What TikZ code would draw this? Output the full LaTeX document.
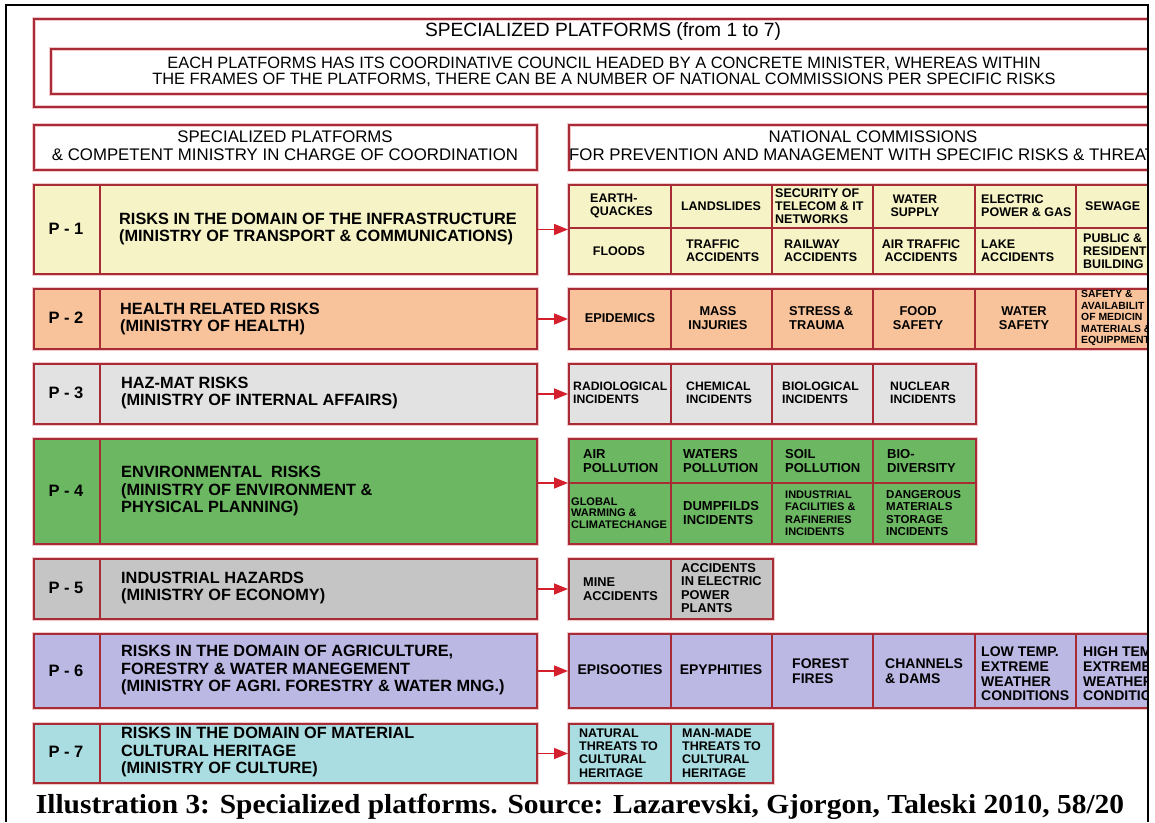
\documentclass[tikz,border=0pt]{standalone}
\usepackage{fontspec}
\setmainfont{Liberation Sans}
\newfontfamily\capfont{Liberation Serif}
\usetikzlibrary{arrows.meta,calc}
\definecolor{bordercol}{RGB}{168,44,54}
\definecolor{glowcol}{RGB}{242,200,204}
\definecolor{arrowcol}{RGB}{212,32,44}
\definecolor{fone}{RGB}{246,244,198}
\definecolor{ftwo}{RGB}{248,194,154}
\definecolor{fthree}{RGB}{226,226,226}
\definecolor{ffour}{RGB}{108,184,98}
\definecolor{ffive}{RGB}{197,197,197}
\definecolor{fsix}{RGB}{188,184,228}
\definecolor{fseven}{RGB}{169,221,225}
\tikzset{
  rbox/.style={draw=bordercol, line width=2pt, preaction={draw=glowcol, line width=4.5pt}, rectangle, inner sep=0pt, anchor=north west},
  divline/.style={draw=bordercol, line width=1.8pt},
  arr/.style={draw=arrowcol, line width=1.6pt, -{Triangle[length=14pt,width=11pt]}},
  ptext/.style={font=\fontsize{16.3}{17.5}\selectfont\bfseries, align=left, anchor=west, inner sep=0pt},
  plabel/.style={font=\fontsize{16.5}{18}\selectfont\bfseries, inner sep=0pt},
  hdr/.style={font=\fontsize{16.8}{18}\selectfont, align=center, inner sep=0pt},
  cell/.style={font=\fontsize{12.5}{13}\selectfont\bfseries, inner sep=0pt},
  cl/.style={cell, align=left, anchor=west},
  cc/.style={cell, align=center, anchor=center},
}
\begin{document}
\begin{tikzpicture}[x=1pt,y=-1pt]
\useasboundingbox (0,0) rectangle (1155,822);
\fill[white] (0,0) rectangle (1155,822);
\begin{scope}
\clip (7,0) rectangle (1147,822);
% title boxes
\node[rbox, minimum width=1220pt, minimum height=88pt] (tout) at (33,18) {};
\node[rbox, minimum width=1200pt, minimum height=45pt] (tin) at (50,48) {};
\node[font=\fontsize{19.2}{21}\selectfont, inner sep=0pt] (ttl) at (603,32) {SPECIALIZED PLATFORMS (from 1 to 7)};
\node[font=\fontsize{16.4}{16.2}\selectfont, align=center, inner sep=0pt] (tsub) at (604,72) {EACH PLATFORMS HAS ITS COORDINATIVE COUNCIL HEADED BY A CONCRETE MINISTER, WHEREAS WITHIN\\THE FRAMES OF THE PLATFORMS, THERE CAN BE A NUMBER OF NATIONAL COMMISSIONS PER SPECIFIC RISKS};
% headers
\node[rbox, minimum width=503pt, minimum height=45pt] (hl) at (33,124) {};
\node[hdr] (hlt) at (285,146) {SPECIALIZED PLATFORMS\\\& COMPETENT MINISTRY IN CHARGE OF COORDINATION};
\node[rbox, minimum width=700pt, minimum height=45pt] (hr) at (568,124) {};
\node[hdr] (hrt1) at (873,137) {NATIONAL COMMISSIONS};
\node[hdr, anchor=west] (hrt2) at (569,155) {FOR PREVENTION AND MANAGEMENT WITH SPECIFIC RISKS \& THREAT};
% ---------- P-1
\node[rbox, fill=fone, minimum width=503pt, minimum height=89pt] (p1) at (33,184) {};
\draw[divline] ($(p1.north west)+(67,0)$) -- ($(p1.south west)+(67,0)$);
\node[plabel] (l1) at (66,229) {P - 1};
\node[ptext] (x1) at (119,229) {RISKS IN THE DOMAIN OF THE INFRASTRUCTURE\\(MINISTRY OF TRANSPORT \& COMMUNICATIONS)};
\node[rbox, fill=fone, minimum width=700pt, minimum height=89pt] (c1) at (568,184) {};
\draw[divline] (568,228) -- (1160,228);
\foreach \cx in {671,772,873,975,1076} \draw[divline] (\cx,184) -- (\cx,273);
\node[cl] (k1a) at (590,206) {EARTH-\\QUACKES};
\node[cc] (k1b) at (721,206) {LANDSLIDES};
\node[cl] (k1c) at (775,206) {SECURITY OF\\TELECOM \& IT\\NETWORKS};
\node[cc] (k1d) at (915,206) {WATER\\SUPPLY};
\node[cl] (k1e) at (981,206) {ELECTRIC\\POWER \& GAS};
\node[cl] (k1f) at (1085,206) {SEWAGE};
\node[cc] (k1g) at (619,251) {FLOODS};
\node[cl] (k1h) at (686,251) {TRAFFIC\\ACCIDENTS};
\node[cl] (k1i) at (784,251) {RAILWAY\\ACCIDENTS};
\node[cc] (k1j) at (921,251) {AIR TRAFFIC\\ACCIDENTS};
\node[cl] (k1k) at (981,251) {LAKE\\ACCIDENTS};
\node[cl] (k1l) at (1083,251) {PUBLIC \&\\RESIDENT\\BUILDING};
\draw[arr] (p1.east) -- (c1.west);
% ---------- P-2
\node[rbox, fill=ftwo, minimum width=503pt, minimum height=60pt] (p2) at (33,288) {};
\draw[divline] ($(p2.north west)+(67,0)$) -- ($(p2.south west)+(67,0)$);
\node[plabel] (l2) at (66,318) {P - 2};
\node[ptext] (x2) at (120,319) {HEALTH RELATED RISKS\\(MINISTRY OF HEALTH)};
\node[rbox, fill=ftwo, minimum width=700pt, minimum height=60pt] (c2) at (568,288) {};
\foreach \cx in {671,772,873,975,1076} \draw[divline] (\cx,288) -- (\cx,348);
\node[cc, font=\fontsize{12.8}{13.5}\selectfont\bfseries] (k2a) at (620,318) {EPIDEMICS};
\node[cc, font=\fontsize{12.8}{13.5}\selectfont\bfseries] (k2b) at (718,318) {MASS\\INJURIES};
\node[cl, font=\fontsize{12.8}{13.5}\selectfont\bfseries] (k2c) at (789,318) {STRESS \&\\TRAUMA};
\node[cc, font=\fontsize{12.8}{13.5}\selectfont\bfseries] (k2d) at (918,318) {FOOD\\SAFETY};
\node[cc, font=\fontsize{12.8}{13.5}\selectfont\bfseries] (k2e) at (1024,318) {WATER\\SAFETY};
\node[cl, font=\fontsize{10.4}{11.5}\selectfont\bfseries] (k2f) at (1081,318) {SAFETY \&\\AVAILABILIT\\OF MEDICIN\\MATERIALS \&\\EQUIPPMENT};
\draw[arr] (p2.east) -- (c2.west);
% ---------- P-3
\node[rbox, fill=fthree, minimum width=503pt, minimum height=60pt] (p3) at (33,363) {};
\draw[divline] ($(p3.north west)+(67,0)$) -- ($(p3.south west)+(67,0)$);
\node[plabel] (l3) at (66,393) {P - 3};
\node[ptext] (x3) at (121,393) {HAZ-MAT RISKS\\(MINISTRY OF INTERNAL AFFAIRS)};
\node[rbox, fill=fthree, minimum width=407pt, minimum height=60pt] (c3) at (568,363) {};
\foreach \cx in {671,772,873} \draw[divline] (\cx,363) -- (\cx,423);
\node[cl, font=\fontsize{12.2}{13.5}\selectfont\bfseries] (k3a) at (573,393) {RADIOLOGICAL\\INCIDENTS};
\node[cl, font=\fontsize{12.2}{13.5}\selectfont\bfseries] (k3b) at (686,393) {CHEMICAL\\INCIDENTS};
\node[cl, font=\fontsize{12.2}{13.5}\selectfont\bfseries] (k3c) at (782,393) {BIOLOGICAL\\INCIDENTS};
\node[cl, font=\fontsize{12.2}{13.5}\selectfont\bfseries] (k3d) at (890,393) {NUCLEAR\\INCIDENTS};
\draw[arr] (p3.east) -- (c3.west);
% ---------- P-4
\node[rbox, fill=ffour, minimum width=503pt, minimum height=105pt] (p4) at (33,438) {};
\draw[divline] ($(p4.north west)+(67,0)$) -- ($(p4.south west)+(67,0)$);
\node[plabel] (l4) at (66,491) {P - 4};
\node[ptext] (x4) at (121,491) {ENVIRONMENTAL\ \ RISKS\\(MINISTRY OF ENVIRONMENT \&\\PHYSICAL PLANNING)};
\node[rbox, fill=ffour, minimum width=407pt, minimum height=105pt] (c4) at (568,438) {};
\draw[divline] (568,483) -- (975,483);
\foreach \cx in {671,772,873} \draw[divline] (\cx,438) -- (\cx,543);
\coordinate (c4m) at (568,483);
\node[cl, font=\fontsize{13}{14}\selectfont\bfseries] (k4a) at (583,461) {AIR\\POLLUTION};
\node[cl, font=\fontsize{13}{14}\selectfont\bfseries] (k4b) at (683,461) {WATERS\\POLLUTION};
\node[cl, font=\fontsize{13}{14}\selectfont\bfseries] (k4c) at (785,461) {SOIL\\POLLUTION};
\node[cl, font=\fontsize{13}{14}\selectfont\bfseries] (k4d) at (887,461) {BIO-\\DIVERSITY};
\node[cl, font=\fontsize{11}{11.7}\selectfont\bfseries] (k4e) at (571,513) {GLOBAL\\WARMING \&\\CLIMATECHANGE};
\node[cl, font=\fontsize{13}{13.5}\selectfont\bfseries] (k4f) at (683,513) {DUMPFILDS\\INCIDENTS};
\node[cl, font=\fontsize{11}{12.5}\selectfont\bfseries] (k4g) at (785,513) {INDUSTRIAL\\FACILITIES \&\\RAFINERIES\\INCIDENTS};
\node[cl, font=\fontsize{11.5}{12.5}\selectfont\bfseries] (k4h) at (886,513) {DANGEROUS\\MATERIALS\\STORAGE\\INCIDENTS};
\draw[arr] (p4.east |- c4m) -- (c4m);
% ---------- P-5
\node[rbox, fill=ffive, minimum width=503pt, minimum height=60pt] (p5) at (33,558) {};
\draw[divline] ($(p5.north west)+(67,0)$) -- ($(p5.south west)+(67,0)$);
\node[plabel] (l5) at (66,588) {P - 5};
\node[ptext] (x5) at (121,588) {INDUSTRIAL HAZARDS\\(MINISTRY OF ECONOMY)};
\node[rbox, fill=ffive, minimum width=204pt, minimum height=60pt] (c5) at (568,558) {};
\draw[divline] (671,558) -- (671,618);
\node[cl, font=\fontsize{12.8}{13.3}\selectfont\bfseries] (k5a) at (583,589) {MINE\\ACCIDENTS};
\node[cl, font=\fontsize{12.8}{13.3}\selectfont\bfseries] (k5b) at (681,588) {ACCIDENTS\\IN ELECTRIC\\POWER\\PLANTS};
\draw[arr] (p5.east) -- (c5.west);
% ---------- P-6
\node[rbox, fill=fsix, minimum width=503pt, minimum height=74pt] (p6) at (33,633) {};
\draw[divline] ($(p6.north west)+(67,0)$) -- ($(p6.south west)+(67,0)$);
\node[plabel] (l6) at (66,671) {P - 6};
\node[ptext] (x6) at (121,670) {RISKS IN THE DOMAIN OF AGRICULTURE,\\FORESTRY \& WATER MANEGEMENT\\(MINISTRY OF AGRI. FORESTRY \& WATER MNG.)};
\node[rbox, fill=fsix, minimum width=700pt, minimum height=74pt] (c6) at (568,633) {};
\foreach \cx in {671,772,873,975,1076} \draw[divline] (\cx,633) -- (\cx,707);
\node[cc, font=\fontsize{14}{14.7}\selectfont\bfseries] (k6a) at (620,670) {EPISOOTIES};
\node[cc, font=\fontsize{14}{14.7}\selectfont\bfseries] (k6b) at (721,670) {EPYPHITIES};
\node[cl, font=\fontsize{14}{14.7}\selectfont\bfseries] (k6c) at (792,671) {FOREST\\FIRES};
\node[cl, font=\fontsize{14}{14.7}\selectfont\bfseries] (k6d) at (885,671) {CHANNELS\\\& DAMS};
\node[cl, font=\fontsize{14}{14.7}\selectfont\bfseries] (k6e) at (981,674) {LOW TEMP.\\EXTREME\\WEATHER\\CONDITIONS};
\node[cl, font=\fontsize{14}{14.7}\selectfont\bfseries] (k6f) at (1083,674) {HIGH TEM\\EXTREME\\WEATHER\\CONDITIO};
\draw[arr] (p6.east) -- (c6.west);
% ---------- P-7
\node[rbox, fill=fseven, minimum width=503pt, minimum height=59pt] (p7) at (33,723) {};
\draw[divline] ($(p7.north west)+(67,0)$) -- ($(p7.south west)+(67,0)$);
\node[plabel] (l7) at (66,752) {P - 7};
\node[ptext] (x7) at (121,752) {RISKS IN THE DOMAIN OF MATERIAL\\CULTURAL HERITAGE\\(MINISTRY OF CULTURE)};
\node[rbox, fill=fseven, minimum width=204pt, minimum height=59pt] (c7) at (568,723) {};
\draw[divline] (671,723) -- (671,782);
\node[cl, font=\fontsize{12.5}{13.3}\selectfont\bfseries] (k7a) at (579,753) {NATURAL\\THREATS TO\\CULTURAL\\HERITAGE};
\node[cl, font=\fontsize{12.5}{13.3}\selectfont\bfseries] (k7b) at (682,753) {MAN-MADE\\THREATS TO\\CULTURAL\\HERITAGE};
\draw[arr] (p7.east) -- (c7.west);
\end{scope}
% caption
\node[font=\capfont\bfseries\fontsize{27.5}{30}\selectfont, anchor=base, inner sep=0pt] (cap) at (580,813) {\scalebox{1.07}[1]{Illustration 3: Specialized platforms. Source: Lazarevski, Gjorgon, Taleski 2010, 58/20}};
% frame
\draw[black, line width=1.3pt] (5,5) -- (1148,5) -- (1148,822);
\draw[black, line width=2.6pt] (6,4.5) -- (6,822);
\draw[black, line width=2.6pt] (5,5) -- (20,5);
\end{tikzpicture}
\end{document}
